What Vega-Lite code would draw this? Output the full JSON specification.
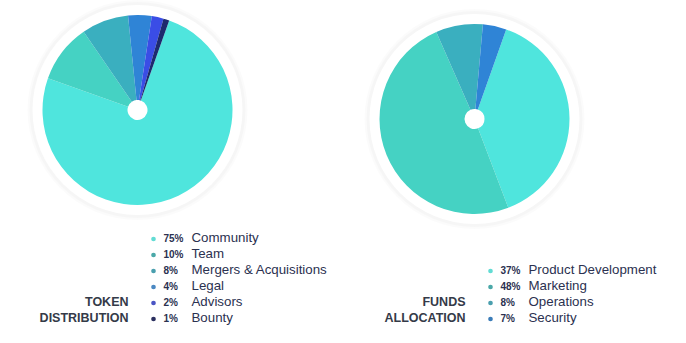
{
  "$schema": "https://vega.github.io/schema/vega-lite/v6.json",
  "width": 686,
  "height": 343,
  "autosize": {"type": "fit", "contains": "padding"},
  "padding": 0,
  "background": "white",
  "config": {"view": {"stroke": null}},
  "datasets": {
    "slices": [
      {"chart": "token", "name": "Community", "pct": "75%", "drawn": 75},
      {"chart": "token", "name": "Team", "pct": "10%", "drawn": 10},
      {"chart": "token", "name": "Mergers & Acquisitions", "pct": "8%", "drawn": 8},
      {"chart": "token", "name": "Legal", "pct": "4%", "drawn": 4},
      {"chart": "token", "name": "Advisors", "pct": "2%", "drawn": 2},
      {"chart": "token", "name": "Bounty", "pct": "1%", "drawn": 1},
      {"chart": "funds", "name": "Product Development", "pct": "37%", "drawn": 38.8},
      {"chart": "funds", "name": "Marketing", "pct": "48%", "drawn": 49.2},
      {"chart": "funds", "name": "Operations", "pct": "8%", "drawn": 8},
      {"chart": "funds", "name": "Security", "pct": "7%", "drawn": 4}
    ],
    "charts": [
      {"chart": "token"},
      {"chart": "funds"}
    ],
    "titles": [
      {"chart": "token", "line": "TOKEN", "row": 1},
      {"chart": "token", "line": "DISTRIBUTION", "row": 0},
      {"chart": "funds", "line": "FUNDS", "row": 1},
      {"chart": "funds", "line": "ALLOCATION", "row": 0}
    ]
  },
  "layer": [
    {
      "encoding": {
        "x": {"field": "chart", "type": "nominal", "scale": {"type": "point", "padding": 0, "domain": ["token", "funds"], "range": [137.5, 474.5]}, "axis": null},
        "y": {"field": "chart", "type": "nominal", "scale": {"type": "point", "padding": 0, "domain": ["token", "funds"], "range": [108, 117]}, "axis": null}
      },
      "layer": [
        {"data": {"name": "charts"}, "mark": {"type": "arc", "radius": 110, "theta": 0, "theta2": 6.2832, "fill": "#000000", "fillOpacity": 0.015}},
        {"data": {"name": "charts"}, "mark": {"type": "arc", "radius": 108, "theta": 0, "theta2": 6.2832, "fill": "#000000", "fillOpacity": 0.02}},
        {"data": {"name": "charts"}, "mark": {"type": "arc", "radius": 105, "theta": 0, "theta2": 6.2832, "fill": "#ffffff"}},
        {
          "data": {"name": "slices"},
          "transform": [{"window": [{"op": "row_number", "as": "idx"}]}],
          "mark": {"type": "arc", "radius": 95, "radius2": 10},
          "encoding": {
            "theta": {"field": "drawn", "type": "quantitative", "stack": true, "scale": {"domain": [0, 100], "range": [0.34, 6.6232]}},
            "order": {"field": "idx", "type": "quantitative"},
            "color": {
              "field": "name", "type": "nominal", "legend": null,
              "scale": {
                "domain": ["Community", "Team", "Mergers & Acquisitions", "Legal", "Advisors", "Bounty", "Product Development", "Marketing", "Operations", "Security"],
                "range": ["#4fe5dd", "#45d2c3", "#3aafbf", "#2f84d6", "#3a4de6", "#1d2a6e", "#4fe5dd", "#45d2c3", "#3aafbf", "#2f84d6"]
              }
            }
          }
        }
      ]
    },
    {
      "data": {"name": "slices"},
      "transform": [
        {"window": [{"op": "row_number", "as": "idx"}], "groupby": ["chart"]},
        {"joinaggregate": [{"op": "count", "as": "n"}], "groupby": ["chart"]},
        {"calculate": "datum.n - datum.idx", "as": "row"}
      ],
      "encoding": {
        "x": {"field": "chart", "type": "nominal", "axis": null},
        "y": {"field": "row", "type": "quantitative", "scale": {"domain": [0, 5], "range": [316, 236]}, "axis": null}
      },
      "layer": [
        {
          "mark": {"type": "circle", "size": 22, "opacity": 1, "xOffset": 16, "yOffset": 1},
          "encoding": {
            "fill": {
              "field": "name", "type": "nominal", "legend": null,
              "scale": {
                "domain": ["Community", "Team", "Mergers & Acquisitions", "Legal", "Advisors", "Bounty", "Product Development", "Marketing", "Operations", "Security"],
                "range": ["#62dcd4", "#4aa8a8", "#4a9fae", "#4a88c2", "#4a55c4", "#2a2f5f", "#62dcd4", "#4aa8a8", "#4a9fae", "#3a7cb8"]
              }
            }
          }
        },
        {
          "mark": {"type": "text", "align": "left", "baseline": "middle", "dx": 26, "dy": 1, "font": "Liberation Sans", "fontWeight": "bold", "fontSize": 10, "color": "#2b3150"},
          "encoding": {"text": {"field": "pct"}}
        },
        {
          "mark": {"type": "text", "align": "left", "baseline": "middle", "dx": 54, "font": "Liberation Sans", "fontSize": 13.3, "color": "#2b3150"},
          "encoding": {"text": {"field": "name"}}
        },
        {
          "data": {"name": "titles"},
          "mark": {"type": "text", "align": "right", "baseline": "middle", "dx": -9, "font": "Liberation Sans", "fontWeight": "bold", "fontSize": 12.5, "color": "#343a48"},
          "encoding": {"text": {"field": "line"}}
        }
      ]
    }
  ],
  "resolve": {"scale": {"y": "independent"}}
}
